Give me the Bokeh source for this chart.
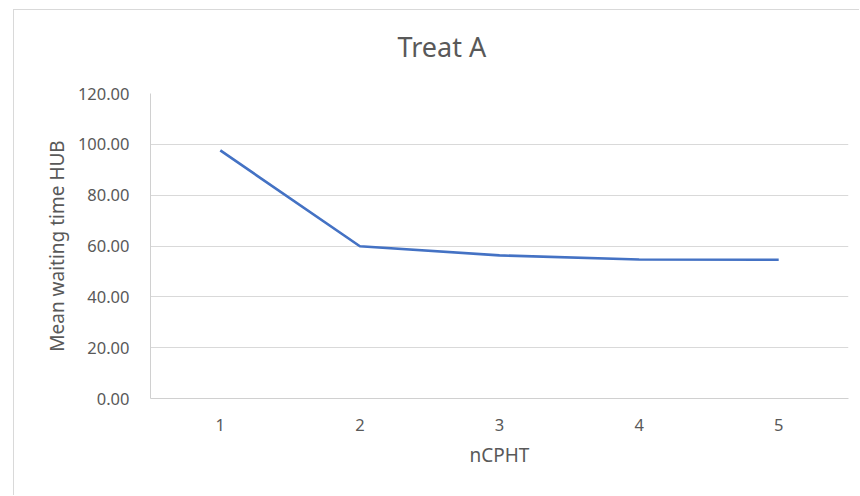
from bokeh.plotting import figure
from bokeh.models import FactorRange, Range1d, NumeralTickFormatter, FixedTicker, Title
from bokeh.embed import file_html
from bokeh.resources import INLINE

categories = ["1", "2", "3", "4", "5"]
mean_wait = [97.6, 59.9, 56.3, 54.7, 54.6]
y_ticks = [0, 20, 40, 60, 80, 100, 120]

FONT = "Noto Sans"
GRAY = "#595959"

p = figure(width=846, height=486, x_range=FactorRange(*categories), y_range=Range1d(0, 120),
           output_backend="svg", toolbar_location=None,
           min_border_left=136, min_border_right=12, min_border_top=83, min_border_bottom=98,
           margin=(9, 0, 0, 13),
           styles={"border-top": "1px solid #d9d9d9", "border-left": "1px solid #d9d9d9"})
p.outline_line_color = None
p.background_fill_color = "white"
p.border_fill_color = "white"

p.title.text = "Treat A"
p.title.align = "left"
p.title.offset = 247
p.title.vertical_align = "top"
p.title.standoff = 0
p.title.text_font = FONT
p.title.text_font_size = "27px"
p.title.text_font_style = "normal"
p.title.text_color = GRAY

# empty spacer between title and plot area
p.add_layout(Title(text=" ", text_font_size="1px", standoff=24), "above")

p.line(categories, mean_wait, line_color="#4472C4", line_width=2.6)

p.yaxis.ticker = FixedTicker(ticks=y_ticks)
p.yaxis.formatter = NumeralTickFormatter(format="0.00")
p.yaxis.axis_line_color = "#d0d0d0"
p.yaxis.major_tick_line_color = None
p.yaxis.minor_tick_line_color = None
p.yaxis.major_label_standoff = 15
p.yaxis.major_label_text_font = FONT
p.yaxis.major_label_text_font_size = "16.5px"
p.yaxis.major_label_text_color = GRAY
p.yaxis.axis_label = "Mean waiting time HUB"
p.yaxis.axis_label_text_font = FONT
p.yaxis.axis_label_text_font_size = "19px"
p.yaxis.axis_label_text_font_style = "normal"
p.yaxis.axis_label_text_color = GRAY
p.yaxis.axis_label_standoff = 5

p.xaxis.axis_line_color = "#d0d0d0"
p.xaxis.major_tick_line_color = None
p.xaxis.minor_tick_line_color = None
p.xaxis.major_label_standoff = 14
p.xaxis.major_label_text_font = FONT
p.xaxis.major_label_text_font_size = "16.5px"
p.xaxis.major_label_text_color = GRAY
p.xaxis.axis_label = "nCPHT"
p.xaxis.axis_label_text_font = FONT
p.xaxis.axis_label_text_font_size = "19px"
p.xaxis.axis_label_text_font_style = "normal"
p.xaxis.axis_label_text_color = GRAY
p.xaxis.axis_label_standoff = 8

p.xgrid.grid_line_color = None
p.ygrid.grid_line_color = "#d9d9d9"
p.ygrid.grid_line_width = 1

open("out.html", "w").write(file_html(p, INLINE))
